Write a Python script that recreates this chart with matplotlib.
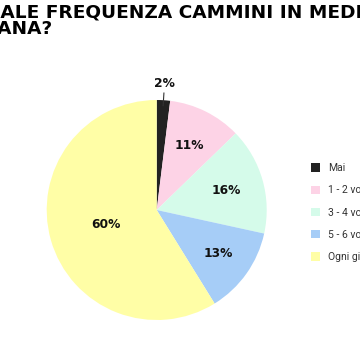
import matplotlib.pyplot as plt
import numpy as np

TITLE_1 = "CON QUALE FREQUENZA CAMMINI IN MEDIA ALLA"
TITLE_2 = "SETTIMANA?"
categories = ["Mai", "1 - 2 volte a settimana", "3 - 4 volte a settimana",
              "5 - 6 volte a settimana", "Ogni giorno"]
values = [2, 11, 16, 13, 60]
colors = ["#222222", "#fdd3e6", "#d5fbea", "#a6cdf7", "#fffea6"]

W = H = 360
TFS = 13.3
fig = plt.figure(figsize=(3.6, 3.6), dpi=100)
fig.patch.set_facecolor("white")

# title is cropped at the left in the reference, so measure the hidden part
renderer = fig.canvas.get_renderer()
probe = fig.text(0, 0, "CON QU", fontsize=TFS, fontweight="heavy")
hidden = probe.get_window_extent(renderer).width
probe.remove()
fig.text((1 - hidden) / W, 1 - 17.5 / H, TITLE_1, fontsize=TFS, fontweight="heavy",
         color="black", va="baseline", ha="left")
fig.text(53 / W, 1 - 34 / H, TITLE_2, fontsize=TFS, fontweight="heavy",
         color="black", va="baseline", ha="right")

# pie
cx, cy, r = 156.7 / W, 1 - 210 / H, 110 / W
ax = fig.add_axes([cx - r, cy - r, 2 * r, 2 * r])
wedges, _ = ax.pie(values, colors=colors, startangle=90, counterclock=False,
                   wedgeprops=dict(linewidth=0))
ax.set_xlim(-1, 1)
ax.set_ylim(-1, 1)
ax.set_aspect("equal")
ax.axis("off")

dist = [None, 0.66, 0.66, 0.68, 0.48]
for i, w in enumerate(wedges):
    ang = np.deg2rad((w.theta1 + w.theta2) / 2)
    txt = f"{values[i]}%"
    if dist[i] is None:
        x0, y0 = np.cos(ang), np.sin(ang)
        ax.plot([x0 * 0.95, x0 * 1.065], [y0 * 0.95, y0 * 1.065], color="#333333", lw=0.8,
                clip_on=False)
        ax.text(x0 * 1.15, y0 * 1.15, txt, ha="center", va="center", fontsize=8.8,
                fontweight="heavy", color="#111111", clip_on=False)
    else:
        ax.text(np.cos(ang) * dist[i], np.sin(ang) * dist[i], txt, ha="center", va="center",
                fontsize=8.8, fontweight="heavy", color="#111111")

leg = fig.legend(wedges, categories, loc="upper left", bbox_to_anchor=(311 / W, 1 - 163 / H),
                 frameon=False, handlelength=0.85, handleheight=0.85,
                 handletextpad=0.75, labelspacing=1.18, borderaxespad=0, borderpad=0,
                 prop={"family": "Roboto", "size": 7.5})
for t in leg.get_texts():
    t.set_color("#333333")

fig.savefig("out.png", dpi=100, facecolor="white")
